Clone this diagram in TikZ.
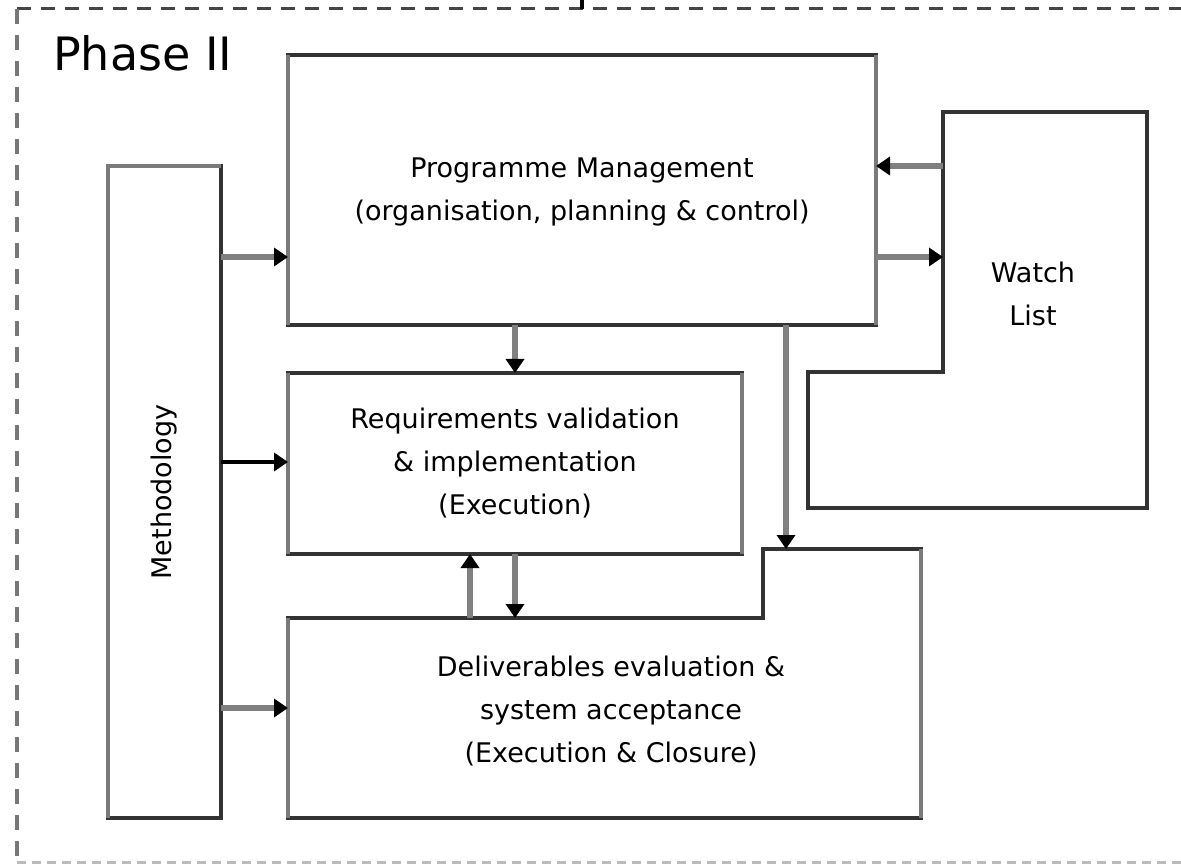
\documentclass[tikz,border=0pt]{standalone}
\usepackage{fontspec}
\setmainfont{DejaVu Sans}
\usetikzlibrary{arrows.meta,calc}
\definecolor{edgedark}{HTML}{333333}
\definecolor{edgegray}{HTML}{7A7A7A}
\definecolor{wiregray}{HTML}{808080}
\definecolor{frametop}{HTML}{444444}
\definecolor{frameleft}{HTML}{777777}
\definecolor{framebottom}{HTML}{BBBBBB}
\begin{document}
\begin{tikzpicture}[x=1pt,y=-1pt,
  box/.style={draw=edgedark,line width=3.5pt,fill=white,inner sep=0pt,outer sep=0pt},
  label/.style={align=center,font=\fontsize{27}{43}\selectfont,inner sep=0pt},
  shade/.style={draw=edgegray,line width=3.5pt},
  wire/.style={draw=wiregray,line width=6pt,-{Triangle[length=14pt,width=18pt,color=black]}},
  blackwire/.style={wire,draw=black,line width=4pt}]
\useasboundingbox (0,0) rectangle (1181,866);

% dashed phase frame (runs on past the right edge)
\coordinate (fTL) at (17,9);
\coordinate (fTR) at (1200,9);
\coordinate (fBL) at (17,862);
\coordinate (fBR) at (1200,862);
\draw[frametop,line width=3pt,dash pattern=on 14pt off 10pt] (fTL) -- (fTR);
\draw[frameleft,line width=3.5pt,dash pattern=on 15pt off 11pt] (fTL) -- (fBL);
\draw[framebottom,line width=3pt,dash pattern=on 9pt off 6pt] (fBL) -- (fBR);
% incoming link from the previous phase
\coordinate (inTop) at (582,0);
\coordinate (inFrame) at (582,9);
\draw[black,line width=4pt] (inTop) -- (inFrame);

\node[label,anchor=north west,font=\fontsize{46}{52}\selectfont] (phase) at (53,35) {Phase II};

% boxes
\node[box,minimum width=588pt,minimum height=270pt] (pm) at (582,190) {};
\node[label] (pmtext) at ([yshift=-2pt]pm.center) {Programme Management\\(organisation, planning \& control)};

\node[box,minimum width=454pt,minimum height=181pt] (req) at (515,463.5) {};
\node[label] (reqtext) at (req.center) {Requirements validation\\\& implementation\\(Execution)};

\node[box,minimum width=113pt,minimum height=652pt] (meth) at (164.5,492) {};
\node[label,rotate=90] (methtext) at (meth.center) {Methodology};

% watch list outline
\coordinate (w1) at (943,112);
\coordinate (w2) at (1147,112);
\coordinate (w3) at (1147,508);
\coordinate (w4) at (808,508);
\coordinate (w5) at (808,372);
\coordinate (w6) at (943,372);
\draw[box,line join=miter] (w1) -- (w2) -- (w3) -- (w4) -- (w5) -- (w6) -- cycle;
\node[label] (watch) at (1033,294) {Watch\\List};

% deliverables outline
\coordinate (d1) at (288,618);
\coordinate (d2) at (763,618);
\coordinate (d3) at (763,549);
\coordinate (d4) at (921,549);
\coordinate (d5) at (921,818);
\coordinate (d6) at (288,818);
\draw[box,line join=miter] (d1) -- (d2) -- (d3) -- (d4) -- (d5) -- (d6) -- cycle;
\node[label] (deltext) at (611,711) {Deliverables evaluation \&\\system acceptance\\(Execution \& Closure)};

% lighter vertical edges
\draw[shade] (pm.south west) -- (pm.north west);
\draw[shade] (pm.south east) -- (pm.north east);
\draw[shade] (req.south west) -- (req.north west);
\draw[shade] (req.south east) -- (req.north east);
\draw[shade] (meth.south west) -- (meth.north west) -- (meth.north east);
\draw[shade] (d6) -- (d1);
\draw[shade] (d4) -- (d5);

% connector rows and columns
\coordinate (rowA) at (0,166);
\coordinate (rowB) at (0,257);
\coordinate (rowC) at (0,462);
\coordinate (rowD) at (0,708);
\coordinate (colA) at (470,0);
\coordinate (colB) at (515,0);
\coordinate (colC) at (786,0);

% connectors
\draw[wire] (meth.east |- rowB) -- (pm.west |- rowB);
\draw[blackwire] (meth.east |- rowC) -- (req.west |- rowC);
\draw[wire] (meth.east |- rowD) -- (d1 |- rowD);
\draw[wire] (w1 |- rowA) -- (pm.east |- rowA);
\draw[wire] (pm.east |- rowB) -- (w1 |- rowB);
\draw[wire] (pm.south -| colB) -- (req.north -| colB);
\draw[wire] (pm.south -| colC) -- (colC |- d4);
\draw[wire] (colA |- d1) -- (req.south -| colA);
\draw[wire] (req.south -| colB) -- (colB |- d1);
\end{tikzpicture}
\end{document}
